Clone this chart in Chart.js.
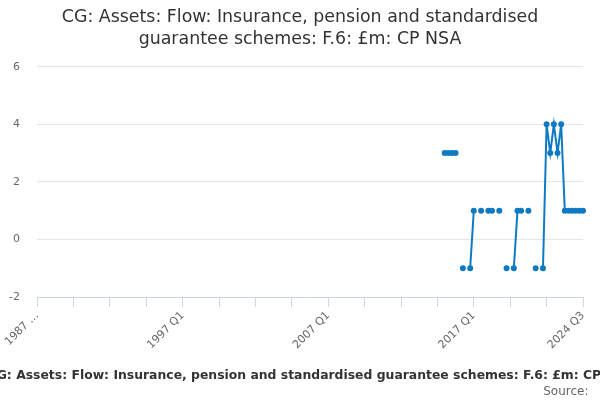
<!DOCTYPE html>
<html>
<head>
<meta charset="utf-8">
<script src="https://cdn.jsdelivr.net/npm/chart.js@4"></script>
<style>
  html, body { margin: 0; padding: 0; background: #fff; }
  #wrap { width: 600px; height: 400px; }
</style>
</head>
<body>
<div id="wrap"><canvas id="chart"></canvas></div>
<script>
// Series: CG assets flow, F.6, £m, CP NSA (quarterly)
const titleLines = [
  'CG: Assets: Flow: Insurance, pension and standardised',
  'guarantee schemes: F.6: £m: CP NSA'
];
const seriesName = 'CG: Assets: Flow: Insurance, pension and standardised guarantee schemes: F.6: £m: CP NSA';

const firstYear = 1987;
const lastYear = 2024;
const lastQuarter = 3;

// Quarters that carry observations (2015 Q1 .. 2024 Q3), null = no value
const dataQuarters = [
  '2015 Q1', '2015 Q2', '2015 Q3', '2015 Q4',
  '2016 Q1', '2016 Q2', '2016 Q3', '2016 Q4',
  '2017 Q1', '2017 Q2', '2017 Q3', '2017 Q4',
  '2018 Q1', '2018 Q2', '2018 Q3', '2018 Q4',
  '2019 Q1', '2019 Q2', '2019 Q3', '2019 Q4',
  '2020 Q1', '2020 Q2', '2020 Q3', '2020 Q4',
  '2021 Q1', '2021 Q2', '2021 Q3', '2021 Q4',
  '2022 Q1', '2022 Q2', '2022 Q3', '2022 Q4',
  '2023 Q1', '2023 Q2', '2023 Q3', '2023 Q4',
  '2024 Q1', '2024 Q2', '2024 Q3'
];
const dataValues = [
  3, 3, 3, 3,
  null, -1, null, -1,
  1, null, 1, null,
  1, 1, null, 1,
  null, -1, null, -1,
  1, 1, null, 1,
  null, -1, null, -1,
  4, 3, 4, 3,
  4, 1, 1, 1,
  1, 1, 1
];

// Tick labels shown on the x axis (others keep only a tick mark)
const shownTicks = {
  '1987 Q1': '1987 …',
  '1997 Q1': '1997 Q1',
  '2007 Q1': '2007 Q1',
  '2017 Q1': '2017 Q1',
  '2024 Q3': '2024 Q3'
};

const yTicks = [-2, 0, 2, 4, 6];

// Build all quarter labels for the category axis
const labels = [];
for (let y = firstYear; y <= lastYear; y++) {
  for (let q = 1; q <= 4; q++) {
    if (y === lastYear && q > lastQuarter) break;
    labels.push(`${y} Q${q}`);
  }
}

const points = dataQuarters.map((q, i) => ({ x: q, y: dataValues[i] }));

const FONT = "'DejaVu Sans', sans-serif";

// Draws the bottom legend text and the source line
const footerPlugin = {
  id: 'footer',
  afterDraw(chart) {
    const ctx = chart.ctx;
    ctx.save();
    ctx.textBaseline = 'alphabetic';
    ctx.fillStyle = '#333333';
    ctx.font = `bold 12.4px ${FONT}`;
    ctx.textAlign = 'center';
    ctx.fillText(seriesName, 311, 378.5);
    ctx.fillStyle = '#666666';
    ctx.font = `12px ${FONT}`;
    ctx.textAlign = 'right';
    ctx.fillText('Source:', 588.5, 394.5);
    ctx.restore();
  }
};

new Chart(document.getElementById('chart'), {
  type: 'line',
  data: {
    labels: labels,
    datasets: [{
      label: seriesName,
      data: points,
      borderColor: '#0e7ac4',
      backgroundColor: '#0e7ac4',
      borderWidth: 2,
      pointRadius: 2,
      pointHoverRadius: 3,
      spanGaps: false,
      tension: 0
    }]
  },
  options: {
    responsive: true,
    maintainAspectRatio: false,
    animation: false,
    layout: { padding: { left: 0, right: 0, top: 0, bottom: 50 } },
    plugins: {
      legend: { display: false },
      tooltip: { enabled: false },
      title: {
        display: true,
        text: titleLines,
        color: '#333333',
        font: { family: FONT, size: 17.4, weight: 'normal', lineHeight: 1.287 },
        padding: { top: 6, bottom: 16 }
      }
    },
    scales: {
      x: {
        type: 'category',
        offset: false,
        border: { display: true, color: '#ccd6eb' },
        grid: {
          drawOnChartArea: false,
          drawTicks: true,
          tickLength: 10,
          color: '#ccd6eb'
        },
        ticks: {
          autoSkip: false,
          minRotation: 45,
          maxRotation: 45,
          padding: 2,
          color: '#666666',
          font: { family: FONT, size: 11 },
          callback: function(value, index) {
            const lab = labels[index];
            if (shownTicks[lab]) return shownTicks[lab];
            return index % 10 === 0 ? '' : null;
          }
        },
        afterFit: function(scale) {
          scale.height = 53;
          scale.paddingRight = 17;
        }
      },
      y: {
        min: -2,
        max: 6,
        border: { display: false },
        grid: { color: '#e6e6e6', drawTicks: false },
        afterBuildTicks: function(scale) {
          scale.ticks = yTicks.map(v => ({ value: v }));
        },
        ticks: {
          padding: 17,
          color: '#666666',
          font: { family: FONT, size: 11 }
        },
        afterFit: function(scale) { scale.width = 37; }
      }
    }
  },
  plugins: [footerPlugin]
});
</script>
</body>
</html>
